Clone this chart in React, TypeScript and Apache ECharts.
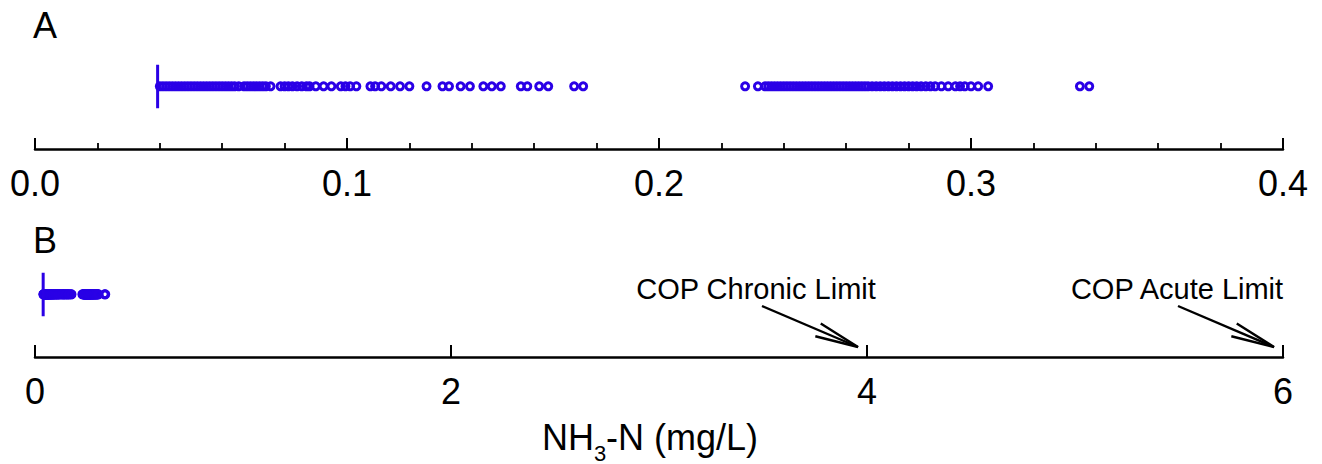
import React, { useEffect, useRef } from "react";
import * as echarts from "echarts";

// ---- Data (NH3-N, mg/L) ----
const lowDense = [
  0.040, 0.041, 0.042, 0.043, 0.044, 0.045, 0.046, 0.047, 0.048, 0.049,
  0.050, 0.051, 0.052, 0.053, 0.054, 0.055, 0.056, 0.057, 0.058, 0.059,
  0.060, 0.061, 0.062, 0.063, 0.064,
];
const lowSparse = [
  0.0653, 0.067, 0.068, 0.069, 0.070, 0.071, 0.072, 0.073, 0.074, 0.0755,
  0.0787, 0.080, 0.0812, 0.0825, 0.084, 0.0855, 0.087, 0.088, 0.090, 0.0925,
  0.095, 0.098, 0.0995, 0.101, 0.103, 0.1075, 0.109, 0.111, 0.114, 0.117,
  0.120, 0.1255, 0.1306, 0.1327, 0.1364, 0.1394, 0.1437, 0.1464, 0.1493,
  0.1557, 0.1578, 0.1616, 0.1645, 0.1728, 0.1757,
];
const highDense = [
  0.2276, 0.2317, 0.234, 0.235, 0.236, 0.237, 0.238, 0.239, 0.240, 0.241,
  0.242, 0.243, 0.244, 0.245, 0.246, 0.247, 0.248, 0.249, 0.250, 0.251,
  0.252, 0.253, 0.254, 0.255, 0.256, 0.257, 0.258, 0.259, 0.260, 0.261,
  0.262, 0.263, 0.264, 0.265, 0.266, 0.267,
];
const highSparse = [
  0.2683, 0.2696, 0.2709, 0.2722, 0.2735, 0.2748, 0.2761, 0.2774, 0.2787,
  0.2800, 0.2813, 0.2826, 0.2840, 0.2855, 0.287, 0.2885, 0.2905, 0.2927,
  0.295, 0.2965, 0.298, 0.300, 0.3023, 0.3055, 0.3349, 0.3379,
];
const detectionLimit = [0.0393];
const panelATicks = ["0.0", "0.1", "0.2", "0.3", "0.4"];
const panelBTicks = ["0", "2", "4", "6"];
const limits = [
  { label: "COP Chronic Limit", value: 4 },
  { label: "COP Acute Limit", value: 6 },
];

const allValues = [...lowDense, ...lowSparse, ...highDense, ...highSparse];

const BLUE = "#2a00e6";
const FONT = "'Liberation Sans', Arial, Helvetica, sans-serif";
const W = 1322;
const H = 464;
const LEFT = 35;
const RIGHT_X = 1283;
const GRID_H = 110;
const TOP_A = 39;
const TOP_B = 247;
const STRIP_Y = 0.57;
const LINE_Y0 = 0.37;
const LINE_Y1 = 0.765;

export default function App() {
  const ref = useRef<HTMLDivElement>(null);

  useEffect(() => {
    if (!ref.current) return;
    const chart = echarts.init(ref.current, undefined, { renderer: "svg" });

    const pts = allValues.map((v) => [v, STRIP_Y]);
    const vline = [
      [detectionLimit[0], LINE_Y0],
      [detectionLimit[0], LINE_Y1],
    ];

    const xPixB = (v: number) => LEFT + (v / 6) * (RIGHT_X - LEFT);
    const axisBY = TOP_B + GRID_H;

    const baseX = {
      type: "value" as const,
      axisLine: { show: true, lineStyle: { color: "#000", width: 2.5 } },
      splitLine: { show: false },
      axisLabel: {
        color: "#000",
        fontSize: 36,
        fontFamily: FONT,
        margin: 16,
        showMinLabel: true,
        showMaxLabel: true,
      },
    };

    const txt = (text: string, x: number, y: number, size: number, align = "center") => ({
      type: "text",
      x,
      y,
      style: { text, fontSize: size, fontFamily: FONT, fill: "#000", align, verticalAlign: "middle" },
    });

    const graphics: any[] = [
      txt("A", 45, 25, 36),
      txt("B", 45, 240, 36),
      txt("NH", 542, 437, 36, "left"),
      txt("3", 594, 453, 22, "left"),
      txt("-N (mg/L)", 606, 437, 36, "left"),
    ];

    limits.forEach((lim) => {
      const tipX = xPixB(lim.value) - 9;
      const tipY = axisBY - 10;
      const dx = 96;
      const dy = 41;
      const startX = tipX - dx;
      const startY = tipY - dy;
      const ang = Math.atan2(dy, dx);
      const len = 44;
      const spread = (9 * Math.PI) / 180;
      const b1 = [tipX - len * Math.cos(ang - spread), tipY - len * Math.sin(ang - spread)];
      const b2 = [tipX - len * Math.cos(ang + spread), tipY - len * Math.sin(ang + spread)];
      graphics.push(txt(lim.label, startX - 6 + (lim.value === 4 ? 0 : 5), 289, 29));
      graphics.push({
        type: "line",
        shape: { x1: startX, y1: startY, x2: tipX, y2: tipY },
        style: { stroke: "#000", lineWidth: 2.4 },
      });
      graphics.push({
        type: "polyline",
        shape: { points: [b1, [tipX, tipY], b2] },
        style: { stroke: "#000", lineWidth: 2.4, fill: "none" },
      });
    });

    chart.setOption({
      animation: false,
      backgroundColor: "#fff",
      grid: [
        { left: LEFT, right: W - RIGHT_X, top: TOP_A, height: GRID_H },
        { left: LEFT, right: W - RIGHT_X, top: TOP_B, height: GRID_H },
      ],
      xAxis: [
        {
          ...baseX,
          gridIndex: 0,
          min: 0,
          max: 0.4,
          interval: 0.1,
          axisTick: { show: true, inside: true, length: 11, lineStyle: { color: "#000", width: 2 } },
          minorTick: { show: true, splitNumber: 5, length: 6, lineStyle: { color: "#000", width: 1.8 } },
          minorSplitLine: { show: false },
          axisLabel: {
            ...baseX.axisLabel,
            formatter: (v: number) => panelATicks[Math.round(v / 0.1)] ?? "",
          },
        },
        {
          ...baseX,
          gridIndex: 1,
          min: 0,
          max: 6,
          interval: 2,
          axisTick: { show: true, inside: true, length: 12, lineStyle: { color: "#000", width: 2 } },
          axisLabel: {
            ...baseX.axisLabel,
            formatter: (v: number) => panelBTicks[Math.round(v / 2)] ?? "",
          },
        },
      ],
      yAxis: [
        { type: "value", gridIndex: 0, min: 0, max: 1, show: false },
        { type: "value", gridIndex: 1, min: 0, max: 1, show: false },
      ],
      series: [0, 1].flatMap((i) => [
        {
          type: "scatter",
          xAxisIndex: i,
          yAxisIndex: i,
          data: pts,
          symbol: "circle",
          symbolSize: 7,
          itemStyle: { color: "none", borderColor: BLUE, borderWidth: 3, opacity: 1 },
          silent: true,
        },
        {
          type: "line",
          xAxisIndex: i,
          yAxisIndex: i,
          data: vline,
          symbol: "none",
          lineStyle: { color: BLUE, width: 3 },
          silent: true,
        },
      ]),
      graphic: graphics,
    });

    return () => chart.dispose();
  }, []);

  return (
    <div
      ref={ref}
      style={{ position: "fixed", left: 0, top: 0, width: W, height: H, background: "#fff" }}
    />
  );
}
